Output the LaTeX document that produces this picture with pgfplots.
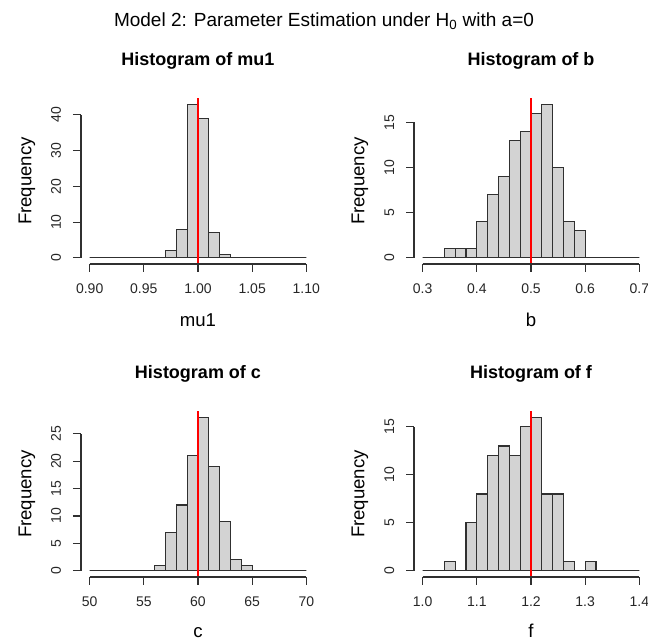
\documentclass[border=0pt]{standalone}
\usepackage{fontspec}
\setmainfont{Liberation Sans}
\usepackage{pgfplots}
\pgfplotsset{compat=1.18}
\definecolor{barfill}{HTML}{D3D3D3}
\definecolor{edge}{HTML}{303030}
\tikzset{rline/.style={edge, line width=1.1pt}}
\pgfplotsset{
  rhist/.style={
    scale only axis, width=234pt, height=166pt,
    axis lines*=left, axis line style={draw=none},
    clip=false,
    tick align=outside, major tick length=8pt,
    tick style={edge, line width=1.1pt},
    minor tick num=0,
    /pgf/number format/assume math mode=true,
    ticklabel style={font=\fontsize{14}{14}\selectfont, text=black!85},
    xticklabel style={anchor=base, inner sep=0pt, yshift=-21.5pt},
    yticklabel style={xshift=-12pt, rotate=90, anchor=base, inner sep=0pt},
    title style={at={(axis description cs:0.5,1.157)}, anchor=base, inner sep=0pt,
      font=\bfseries\fontsize{18}{18}\selectfont},
    xlabel style={at={(axis description cs:0.5,-0.3795)}, anchor=base, inner sep=0pt,
      font=\fontsize{18.6}{18.6}\selectfont},
    ylabel style={at={(axis description cs:-0.212,0.5)}, rotate=0, anchor=base, inner sep=0pt,
      font=\fontsize{18.6}{18.6}\selectfont},
    ylabel={Frequency},
  },
  bars/.style={ybar, bar shift=0pt, fill=barfill, draw=edge, line width=1.1pt},
  truth/.style={red, line width=1.1pt},
}
\begin{document}
\begin{tikzpicture}
\useasboundingbox (0,0) rectangle (648pt,642pt);
\node[anchor=base, inner sep=0pt, font=\fontsize{19}{19}\selectfont] at (324pt,615.5pt)
  {Model 2: Parameter Estimation under H\textsubscript{0} with a=0};

% ---- mu1 (bins of width 0.01, centres)
\begin{axis}[rhist, at={(81pt,378pt)}, anchor=south west,
  xmin=0.892, xmax=1.108, ymin=-1.72, ymax=44.72,
  xtick={0.90,0.95,1.00,1.05,1.10}, ytick={0,10,20,30,40},
  xticklabel style={/pgf/number format/.cd, fixed, fixed zerofill, precision=2},
  title={Histogram of mu1}, xlabel={mu1}]
\addplot[bars, bar width=0.01] coordinates {
 (0.905,0) (0.915,0) (0.925,0) (0.935,0) (0.945,0) (0.955,0) (0.965,0)
 (0.975,2) (0.985,8) (0.995,43) (1.005,39) (1.015,7) (1.025,1)
 (1.035,0) (1.045,0) (1.055,0) (1.065,0) (1.075,0) (1.085,0) (1.095,0)};
\addplot[truth] coordinates {(1,-1.72) (1,44.72)};
\draw[rline] (axis cs:0.90,-1.72) -- (axis cs:1.10,-1.72);
\draw[rline] (axis cs:0.892,0) -- (axis cs:0.892,40);
\end{axis}

% ---- b (bins of width 0.02)
\begin{axis}[rhist, at={(414pt,378pt)}, anchor=south west,
  xmin=0.284, xmax=0.716, ymin=-0.68, ymax=17.68,
  xtick={0.3,0.4,0.5,0.6,0.7}, ytick={0,5,10,15},
  xticklabel style={/pgf/number format/.cd, fixed, fixed zerofill, precision=1},
  title={Histogram of b}, xlabel={b}]
\addplot[bars, bar width=0.02] coordinates {
 (0.31,0) (0.33,0) (0.35,1) (0.37,1) (0.39,1) (0.41,4) (0.43,7) (0.45,9)
 (0.47,13) (0.49,14) (0.51,16) (0.53,17) (0.55,10) (0.57,4) (0.59,3)
 (0.61,0) (0.63,0) (0.65,0) (0.67,0) (0.69,0)};
\addplot[truth] coordinates {(0.5,-0.68) (0.5,17.68)};
\draw[rline] (axis cs:0.3,-0.68) -- (axis cs:0.7,-0.68);
\draw[rline] (axis cs:0.284,0) -- (axis cs:0.284,15);
\end{axis}

% ---- c (bins of width 1)
\begin{axis}[rhist, at={(81pt,65pt)}, anchor=south west,
  xmin=49.2, xmax=70.8, ymin=-1.12, ymax=29.12,
  xtick={50,55,60,65,70}, ytick={0,5,10,15,20,25},
  xlabel style={at={(axis description cs:0.5,-0.367)}},
  title={Histogram of c}, xlabel={c}]
\addplot[bars, bar width=1] coordinates {
 (50.5,0) (51.5,0) (52.5,0) (53.5,0) (54.5,0) (55.5,0) (56.5,1) (57.5,7)
 (58.5,12) (59.5,21) (60.5,28) (61.5,19) (62.5,9) (63.5,2) (64.5,1)
 (65.5,0) (66.5,0) (67.5,0) (68.5,0) (69.5,0)};
\addplot[truth] coordinates {(60,-1.12) (60,29.12)};
\draw[rline] (axis cs:50,-1.12) -- (axis cs:70,-1.12);
\draw[rline] (axis cs:49.2,0) -- (axis cs:49.2,25);
\end{axis}

% ---- f (bins of width 0.02)
\begin{axis}[rhist, at={(414pt,65pt)}, anchor=south west,
  xmin=0.984, xmax=1.416, ymin=-0.64, ymax=16.64,
  xtick={1.0,1.1,1.2,1.3,1.4}, ytick={0,5,10,15},
  xticklabel style={/pgf/number format/.cd, fixed, fixed zerofill, precision=1},
  xlabel style={at={(axis description cs:0.5,-0.367)}},
  title={Histogram of f}, xlabel={f}]
\addplot[bars, bar width=0.02] coordinates {
 (1.01,0) (1.03,0) (1.05,1) (1.07,0) (1.09,5) (1.11,8) (1.13,12) (1.15,13)
 (1.17,12) (1.19,15) (1.21,16) (1.23,8) (1.25,8) (1.27,1) (1.29,0) (1.31,1)
 (1.33,0) (1.35,0) (1.37,0) (1.39,0)};
\addplot[truth] coordinates {(1.2,-0.64) (1.2,16.64)};
\draw[rline] (axis cs:1.0,-0.64) -- (axis cs:1.4,-0.64);
\draw[rline] (axis cs:0.984,0) -- (axis cs:0.984,15);
\end{axis}
\end{tikzpicture}
\end{document}
